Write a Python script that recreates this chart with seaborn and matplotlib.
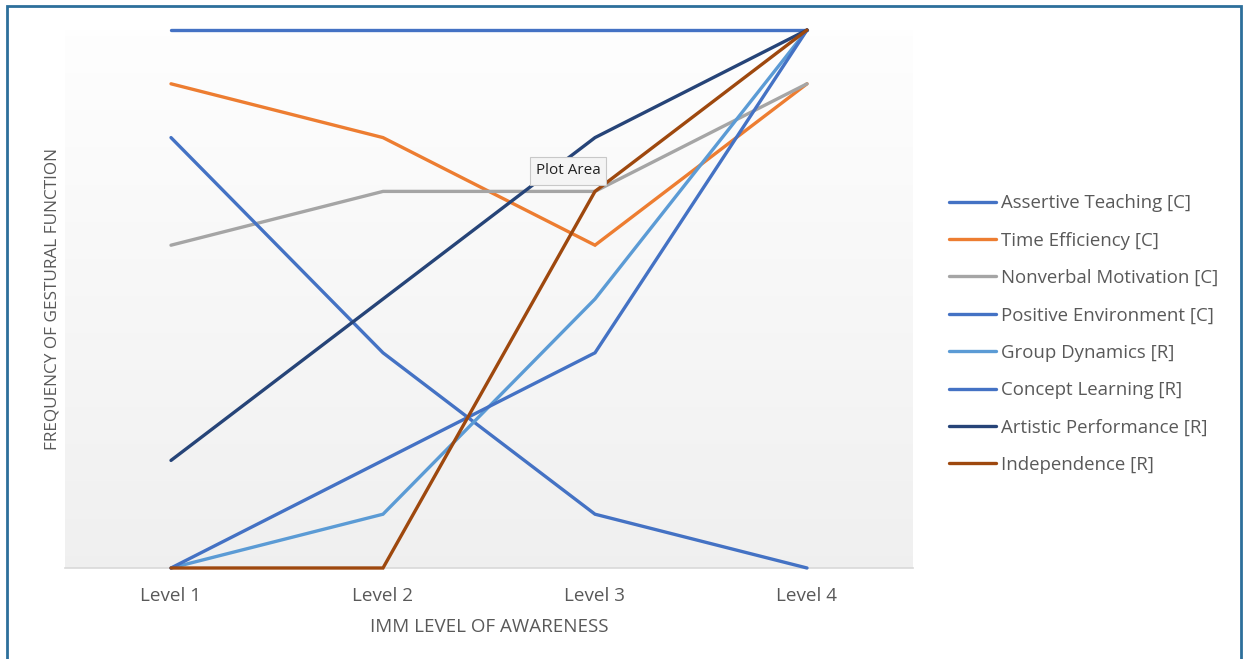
import numpy as np
import pandas as pd
import matplotlib
matplotlib.use("Agg")
import matplotlib.pyplot as plt
from matplotlib.patches import Rectangle
import seaborn as sns

# Awareness levels and gestural-function frequencies per series
levels = ["Level 1", "Level 2", "Level 3", "Level 4"]
assertive_teaching = [10, 10, 10, 10]
time_efficiency = [9, 8, 6, 9]
nonverbal_motivation = [6, 7, 7, 9]
positive_environment = [8, 4, 1, 0]
group_dynamics = [0, 1, 5, 10]
concept_learning = [0, 2, 4, 10]
artistic_performance = [2, 5, 8, 10]
independence = [0, 0, 7, 10]

series_names = [
    "Assertive Teaching [C]",
    "Time Efficiency [C]",
    "Nonverbal Motivation [C]",
    "Positive Environment [C]",
    "Group Dynamics [R]",
    "Concept Learning [R]",
    "Artistic Performance [R]",
    "Independence [R]",
]
series_values = [
    assertive_teaching, time_efficiency, nonverbal_motivation,
    positive_environment, group_dynamics, concept_learning,
    artistic_performance, independence,
]
colors = ["#4472C4", "#ED7D31", "#A5A5A5", "#4472C4",
          "#5B9BD5", "#4472C4", "#264478", "#9E480E"]

rows = []
for name, vals in zip(series_names, series_values):
    for i, (lvl, v) in enumerate(zip(levels, vals)):
        rows.append({"series": name, "pos": i, "level": lvl, "value": v})
df = pd.DataFrame(rows)

sns.set_theme(style="white")
plt.rcParams["font.family"] = ["Open Sans", "DejaVu Sans"]

TEXT = "#595959"
W, H = 1243, 659
fig = plt.figure(figsize=(W / 100, H / 100), dpi=100)
fig.patch.set_facecolor("white")

# plot area in pixel coordinates
left, right, top, bottom = 65, 913, 30, 568
ax = fig.add_axes([left / W, 1 - bottom / H, (right - left) / W, (bottom - top) / H])

# soft vertical gradient behind the plot area
grad = np.linspace(1.0, 0.0, 256).reshape(-1, 1)
shade = 1.0 - 0.06 * (1 - grad)
img = np.dstack([shade, shade, shade])
ax.imshow(img, extent=(-0.5, 3.5, 0, 10.6), aspect="auto", zorder=0,
          origin="upper")

sns.lineplot(data=df, x="pos", y="value", hue="series", hue_order=series_names,
             palette=dict(zip(series_names, colors)), linewidth=2.4, ax=ax,
             legend=True, zorder=3)
for ln in ax.get_lines():
    ln.set_clip_on(False)
    ln.set_solid_capstyle("round")
    ln.set_solid_joinstyle("miter")

ax.set_xlim(-0.5, 3.5)
ax.set_ylim(0, 10)
ax.set_xticks(range(len(levels)))
ax.set_xticklabels(levels)
ax.set_yticks([])
ax.tick_params(axis="x", length=0, pad=14, labelsize=13.6, labelcolor=TEXT)
for side in ["top", "right", "left"]:
    ax.spines[side].set_visible(False)
ax.spines["bottom"].set_color("#d9d9d9")
ax.spines["bottom"].set_linewidth(1.2)
ax.spines["bottom"].set_zorder(2)

ax.set_xlabel("IMM LEVEL OF AWARENESS", fontsize=13.5, color=TEXT, labelpad=9)
ax.set_ylabel("FREQUENCY OF GESTURAL FUNCTION", fontsize=12.4, color=TEXT,
              labelpad=3)

handles, labels = ax.get_legend_handles_labels()
ax.legend(handles, labels, loc="center left", bbox_to_anchor=(949 / W, 1 - 334 / H),
          bbox_transform=fig.transFigure, frameon=False, fontsize=13.4,
          labelcolor=TEXT, handlelength=2.55, handletextpad=0.22,
          labelspacing=1.04, borderaxespad=0, borderpad=0)

# hover label over the plot area
fig.text(568 / W, 1 - 171 / H, "Plot Area", ha="center", va="center",
         fontsize=11, color="#222222",
         bbox=dict(boxstyle="square,pad=0.4", facecolor="#f4f4f4",
                   edgecolor="#c8c8c8", linewidth=0.8), zorder=10)

# outer chart frame
fig.patches.append(Rectangle((7 / W, -0.05), (1241 - 7) / W, 1.05 - 6 / H,
                             transform=fig.transFigure, fill=False,
                             edgecolor="#2d6f9b", linewidth=2.0, zorder=20))

fig.savefig("out.png", dpi=100)
